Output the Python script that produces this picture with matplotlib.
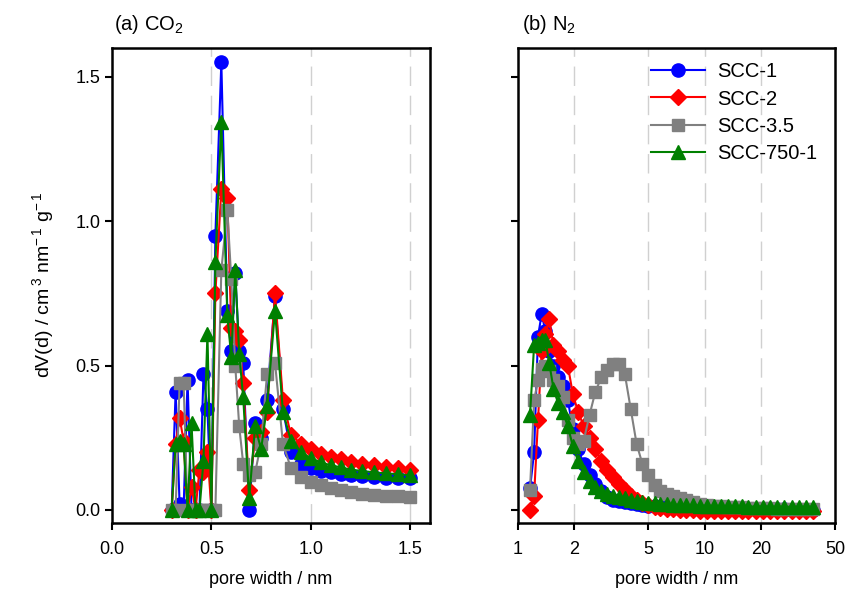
import matplotlib
matplotlib.use("Agg")
import matplotlib.pyplot as plt
from matplotlib.ticker import FixedLocator, FixedFormatter, NullLocator

plt.rcParams['font.family'] = ['Liberation Sans', 'DejaVu Sans']
plt.rcParams['mathtext.fontset'] = 'custom'
plt.rcParams['mathtext.rm'] = 'Liberation Sans'
plt.rcParams['mathtext.it'] = 'Liberation Sans:italic'

# series names / colours / markers
names = ["SCC-1", "SCC-2", "SCC-3.5", "SCC-750-1"]
colors = ["#0000ff", "#ff0000", "#808080", "#008000"]
markers = ["o", "D", "s", "^"]

# (a) CO2 pore size distribution
x_co2 = [0.30, 0.32, 0.34, 0.36, 0.38, 0.40, 0.42, 0.44, 0.46, 0.48, 0.50, 0.52,
         0.55, 0.58, 0.60, 0.62, 0.64, 0.66, 0.69, 0.72, 0.75, 0.78, 0.82, 0.86,
         0.90, 0.95, 1.00, 1.05, 1.10, 1.15, 1.20, 1.26, 1.32, 1.38, 1.44, 1.50]
scc1_co2 = [0.0, 0.41, 0.02, 0.0, 0.45, 0.0, 0.0, 0.0, 0.47, 0.35, 0.0, 0.95,
            1.55, 0.69, 0.55, 0.82, 0.55, 0.51, 0.0, 0.30, 0.25, 0.38, 0.74, 0.35,
            0.20, 0.16, 0.145, 0.135, 0.13, 0.125, 0.12, 0.118, 0.115, 0.112, 0.11, 0.11]
scc2_co2 = [0.0, 0.23, 0.32, 0.24, 0.0, 0.08, 0.0, 0.14, 0.13, 0.20, 0.0, 0.75,
            1.11, 1.08, 0.63, 0.62, 0.59, 0.44, 0.07, 0.25, 0.27, 0.34, 0.75, 0.38,
            0.26, 0.23, 0.21, 0.195, 0.185, 0.175, 0.165, 0.16, 0.155, 0.15, 0.145, 0.14]
scc35_co2 = [0.0, 0.0, 0.44, 0.44, 0.0, 0.0, 0.0, 0.0, 0.0, 0.0, 0.0, 0.0,
             0.83, 1.04, 0.80, 0.50, 0.29, 0.16, 0.12, 0.13, 0.23, 0.47, 0.51, 0.23,
             0.145, 0.115, 0.098, 0.085, 0.075, 0.068, 0.062, 0.057, 0.053, 0.05, 0.047, 0.046]
scc750_co2 = [0.0, 0.23, 0.24, 0.23, 0.0, 0.30, 0.0, 0.0, 0.17, 0.61, 0.0, 0.86,
              1.345, 0.675, 0.53, 0.83, 0.54, 0.39, 0.04, 0.29, 0.21, 0.36, 0.69, 0.34,
              0.24, 0.20, 0.18, 0.165, 0.155, 0.148, 0.14, 0.135, 0.13, 0.127, 0.124, 0.12]

# (b) N2 pore size distribution
x_n2 = [1.16, 1.22, 1.28, 1.34, 1.40, 1.47, 1.55, 1.64, 1.74, 1.85, 1.97, 2.10,
        2.25, 2.42, 2.60, 2.80, 3.01, 3.24, 3.48, 3.74, 4.02, 4.32, 4.64, 4.99,
        5.4, 5.8, 6.3, 6.8, 7.4, 8.0, 8.7, 9.5, 10.3, 11.2, 12.2, 13.3,
        14.5, 15.8, 17.2, 18.8, 20.5, 22.4, 24.5, 26.8, 29.3, 32.0, 35.0, 38.0]
scc1_n2 = [0.075, 0.20, 0.60, 0.68, 0.62, 0.55, 0.50, 0.46, 0.43, 0.38, 0.28, 0.21,
           0.16, 0.12, 0.09, 0.065, 0.045, 0.035, 0.03, 0.028, 0.024, 0.02, 0.017, 0.015,
           0.013, 0.011, 0.01, 0.009, 0.008, 0.007, 0.006, 0.006, 0.005, 0.005, 0.004, 0.004,
           0.004, 0.003, 0.003, 0.003, 0.002, 0.002, 0.002, 0.002, 0.001, 0.001, 0.001, 0.001]
scc2_n2 = [0.0, 0.05, 0.31, 0.55, 0.61, 0.66, 0.57, 0.55, 0.52, 0.50, 0.40, 0.34,
           0.29, 0.25, 0.21, 0.17, 0.14, 0.115, 0.09, 0.07, 0.05, 0.035, 0.025, 0.018,
           0.012, 0.008, 0.005, 0.003, 0.001, 0.0, -0.001, -0.002, -0.003, -0.003, -0.004, -0.004,
           -0.004, -0.005, -0.005, -0.005, -0.005, -0.005, -0.005, -0.005, -0.005, -0.005, -0.005, -0.005]
scc35_n2 = [0.07, 0.38, 0.45, 0.49, 0.50, 0.48, 0.45, 0.43, 0.39, 0.31, 0.25, 0.23,
            0.24, 0.33, 0.41, 0.46, 0.485, 0.505, 0.505, 0.47, 0.35, 0.23, 0.16, 0.12,
            0.085, 0.065, 0.055, 0.048, 0.04, 0.033, 0.027, 0.022, 0.018, 0.015, 0.013, 0.011,
            0.01, 0.009, 0.008, 0.007, 0.006, 0.006, 0.005, 0.005, 0.005, 0.004, 0.004, 0.004]
scc750_n2 = [0.33, 0.57, 0.58, 0.59, 0.59, 0.51, 0.42, 0.37, 0.34, 0.29, 0.22, 0.17,
             0.13, 0.10, 0.08, 0.065, 0.055, 0.05, 0.045, 0.04, 0.035, 0.03, 0.028, 0.025,
             0.023, 0.021, 0.02, 0.019, 0.018, 0.017, 0.016, 0.015, 0.015, 0.014, 0.014, 0.013,
             0.013, 0.013, 0.012, 0.012, 0.012, 0.012, 0.011, 0.011, 0.011, 0.011, 0.011, 0.011]

co2_ticks = [0.0, 0.5, 1.0, 1.5]
n2_ticks = [1, 2, 5, 10, 20, 50]
y_ticks = [0.0, 0.5, 1.0, 1.5]

co2_series = [scc1_co2, scc2_co2, scc35_co2, scc750_co2]
n2_series = [scc1_n2, scc2_n2, scc35_n2, scc750_n2]

fig = plt.figure(figsize=(8.5, 5.96), dpi=100)
ax1 = fig.add_axes([0.1318, 0.1225, 0.3741, 0.797])
ax2 = fig.add_axes([0.6094, 0.1225, 0.3729, 0.797])

msizes = [9.5, 8.5, 8, 10.5]
for ys, c, m, ms, n in zip(co2_series, colors, markers, msizes, names):
    ax1.plot(x_co2, ys, color=c, marker=m, markersize=ms, lw=1.5, label=n)
for ys, c, m, ms, n in zip(n2_series, colors, markers, msizes, names):
    ax2.plot(x_n2, ys, color=c, marker=m, markersize=ms, lw=1.5, label=n)

ax1.set_xlim(0, 1.6)
ax2.set_xscale('log')
ax2.set_xlim(1, 50)
for ax in (ax1, ax2):
    ax.set_ylim(-0.045, 1.6)
    ax.set_yticks(y_ticks)
    for s in ax.spines.values():
        s.set_linewidth(1.8)
    ax.tick_params(direction='out', length=5, width=1.5, labelsize=13)
    ax.tick_params(axis='x', pad=8)

ax1.set_xticks(co2_ticks)
ax1.set_xticklabels(["0.0", "0.5", "1.0", "1.5"])
ax1.set_yticklabels(["0.0", "0.5", "1.0", "1.5"])
ax2.xaxis.set_major_locator(FixedLocator(n2_ticks))
ax2.xaxis.set_major_formatter(FixedFormatter([str(t) for t in n2_ticks]))
ax2.xaxis.set_minor_locator(NullLocator())
ax2.set_yticklabels([])

# dashed vertical grid lines
for t in co2_ticks[1:]:
    ax1.axvline(t, color='#d0d0d0', lw=1, ls=(0, (14, 7)), zorder=0)
for t in n2_ticks[1:-1]:
    ax2.axvline(t, color='#d0d0d0', lw=1, ls=(0, (14, 7)), zorder=0)

ax1.set_xlabel("pore width / nm", fontsize=13, labelpad=9)
ax2.set_xlabel("pore width / nm", fontsize=13, labelpad=9)
ax1.set_ylabel(r"dV(d) / cm$\mathregular{^{\,3}}$ nm$\mathregular{^{-\,1}}$ g$\mathregular{^{-\,1}}$",
               fontsize=14, labelpad=14)

ax1.text(0.005, 1.025, r"(a) CO$\mathregular{_2}$", transform=ax1.transAxes, fontsize=14.5, ha='left', va='bottom')
ax2.text(0.012, 1.025, r"(b) N$\mathregular{_2}$", transform=ax2.transAxes, fontsize=14.5, ha='left', va='bottom')

ax2.legend(loc='upper right', frameon=False, fontsize=14.5, handlelength=2.7,
           handletextpad=0.6, labelspacing=0.42, borderaxespad=0.3, bbox_to_anchor=(0.99, 1.0))

plt.savefig("out.png", dpi=100)
